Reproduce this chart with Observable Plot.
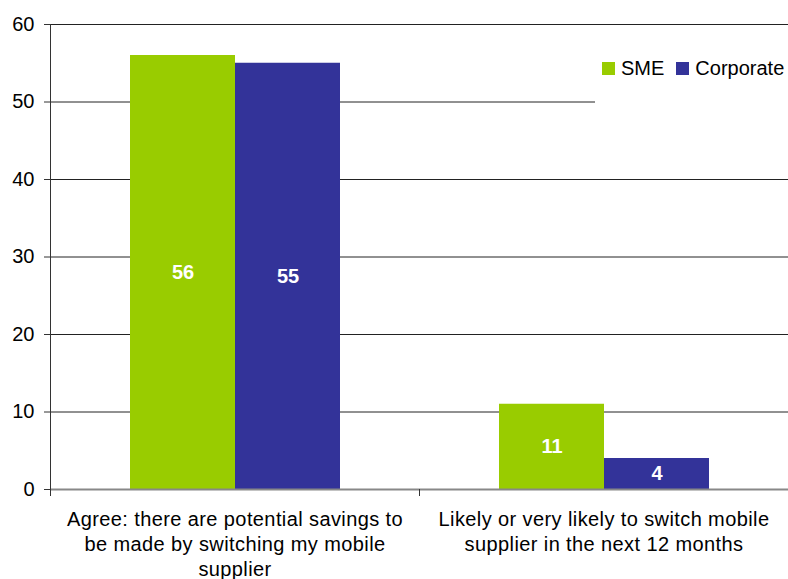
<!DOCTYPE html>
<html>
<head>
<meta charset="utf-8">
<script src="https://cdn.jsdelivr.net/npm/d3@7"></script>
<script src="https://cdn.jsdelivr.net/npm/@observablehq/plot@0.6"></script>
<style>
  html, body { margin: 0; padding: 0; background: #fff; }
  #wrap { position: relative; width: 788px; height: 579px; font-family: "Liberation Sans", Arial, sans-serif; }
  #legend { position: absolute; left: 595px; top: 48px; width: 193px; height: 56px; background: #fff;
            display: flex; align-items: flex-start; font-size: 20px; color: #000; }
  .item { display: flex; align-items: center; margin-top: 9px; }
  .sw { width: 13px; height: 13px; display: inline-block; margin-right: 6px; }
</style>
</head>
<body>
<div id="wrap"></div>
<script>
const categories = [
  "Agree: there are potential savings to\nbe made by switching my mobile\nsupplier",
  "Likely or very likely to switch mobile\nsupplier in the next 12 months"
];
const series = ["SME", "Corporate"];
const smeValues = [56, 11];
const corporateValues = [55, 4];
const seriesColors = ["#99CC00", "#333399"];
const yTicks = [0, 10, 20, 30, 40, 50, 60];

const data = [];
categories.forEach((c, i) => {
  data.push({category: c, series: "SME", value: smeValues[i]});
  data.push({category: c, series: "Corporate", value: corporateValues[i]});
});

const plot = Plot.plot({
  width: 788,
  height: 579,
  marginTop: 24,
  marginBottom: 90,
  marginLeft: 49,
  marginRight: 0,
  style: {fontFamily: '"Liberation Sans", Arial, sans-serif', fontSize: "20px", color: "#000", background: "#fff"},
  fx: {domain: categories, padding: 0},
  x: {domain: series, paddingInner: 0, paddingOuter: 0.75, axis: null},
  y: {domain: [0, 60]},
  color: {domain: series, range: seriesColors},
  marks: [
    Plot.ruleY(yTicks.filter(d => d > 0), {stroke: "#222", strokeWidth: 1}),
    Plot.barY(data, {fx: "category", x: "series", y: "value", fill: "series"}),
    Plot.text(data, {fx: "category", x: "series", y: d => d.value / 2, text: d => String(d.value),
      fill: "#fff", fontWeight: "bold", fontSize: 20}),
    Plot.ruleY([0], {stroke: "#888", strokeWidth: 2}),
    Plot.frame({anchor: "left", facetAnchor: "left", insetBottom: -6, stroke: "#333"}),
    Plot.frame({anchor: "right", insetTop: 465, insetBottom: -6, stroke: "#333"}),
    Plot.axisY({ticks: yTicks, tickSize: 6, tickPadding: 10, fontSize: 20, label: null, stroke: "#333"}),
    Plot.axisFx({anchor: "bottom", tickSize: 0, tickPadding: 18, fontSize: 20, lineHeight: 1.27, label: null})
  ]
});

d3.select(plot).selectAll('g[aria-label="fx-axis tick label"] text').style("letter-spacing", "0.4px");

const wrap = document.getElementById("wrap");
wrap.appendChild(plot);

const legend = document.createElement("div");
legend.id = "legend";
series.forEach((s, i) => {
  const item = document.createElement("div");
  item.className = "item";
  item.style.marginLeft = i === 0 ? "7px" : "12px";
  const sw = document.createElement("span");
  sw.className = "sw";
  sw.style.background = seriesColors[i];
  const lab = document.createElement("span");
  lab.textContent = s;
  item.appendChild(sw);
  item.appendChild(lab);
  legend.appendChild(item);
});
wrap.appendChild(legend);
</script>
</body>
</html>
